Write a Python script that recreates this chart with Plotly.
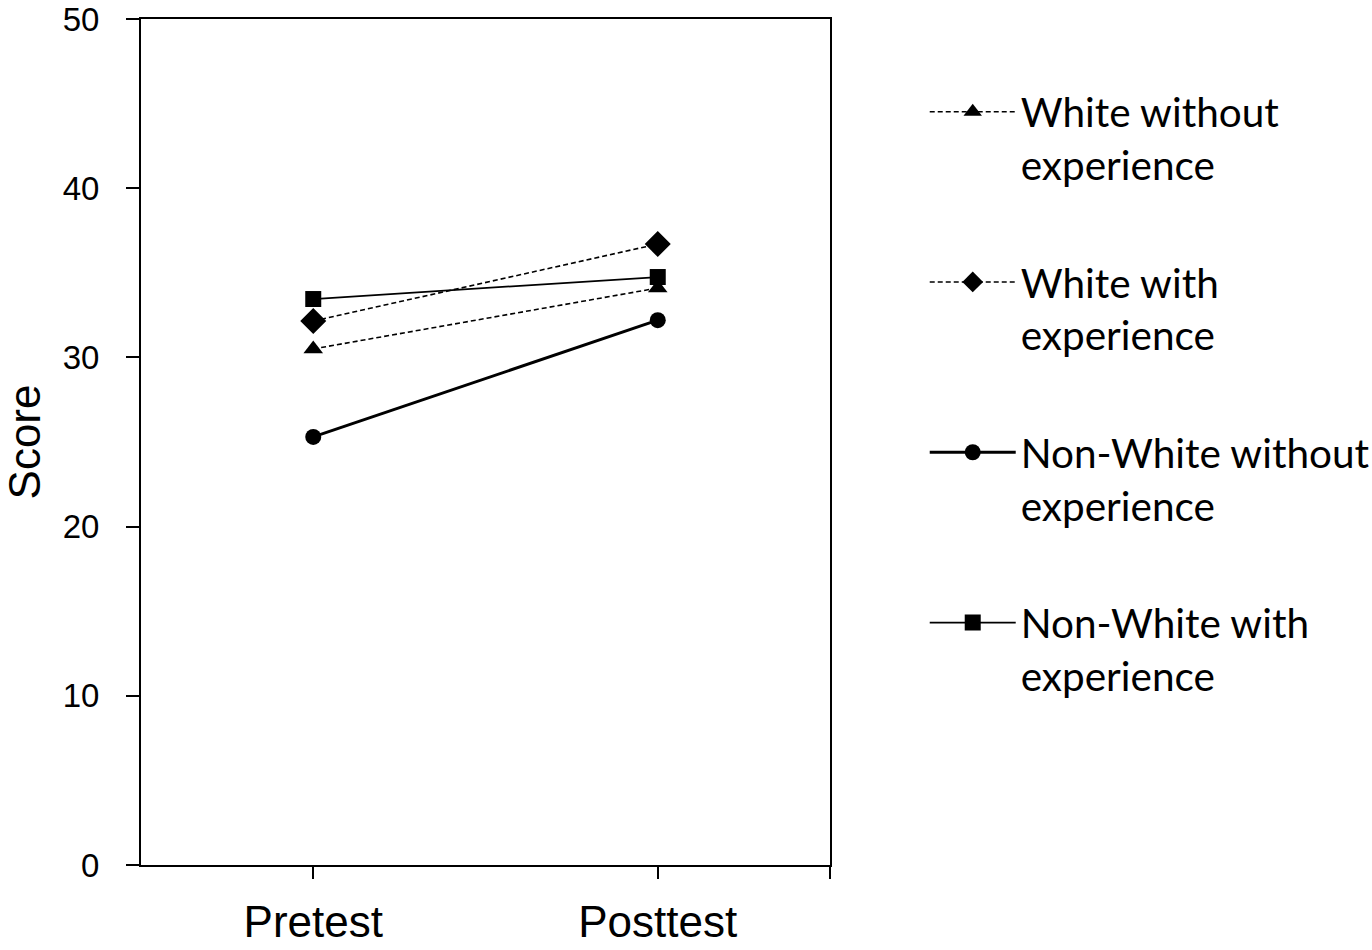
import plotly.graph_objects as go

categories = ["Pretest", "Posttest"]
series_names = [
    "White without<br>experience",
    "White with<br>experience",
    "Non-White without<br>experience",
    "Non-White with<br>experience",
]
white_without = [30.5, 34.1]
white_with = [32.15, 36.7]
nonwhite_without = [25.3, 32.2]
nonwhite_with = [33.45, 34.75]
y_ticks = [0, 10, 20, 30, 40, 50]

values = [white_without, white_with, nonwhite_without, nonwhite_with]
symbols = ["triangle-up", "diamond", "circle", "square"]
dashes = ["5px,3px", "5px,3px", "solid", "solid"]
widths = [1.6, 1.6, 3, 1.8]
msizes = [17, 20, 16, 16]

xpos = list(range(len(categories)))

fig = go.Figure()
for i, (name, vals, sym, dash, w, ms) in enumerate(zip(series_names, values, symbols, dashes, widths, msizes)):
    fig.add_trace(go.Scatter(
        x=xpos, y=vals, name=name, mode="lines+markers",
        legendgroup=f"g{i}",
        line=dict(color="black", width=w, dash=dash),
        marker=dict(symbol=sym, size=ms, color="black"),
    ))

fig.update_layout(
    width=1372, height=950,
    margin=dict(l=141, r=542, t=19, b=85, autoexpand=False),
    paper_bgcolor="white", plot_bgcolor="white",
    showlegend=True,
    legend=dict(
        xref="container", yref="container",
        x=0.674, y=0.917, xanchor="left", yanchor="top",
        font=dict(family="Lato", size=40.5, color="black"),
        valign="top", itemwidth=86, tracegroupgap=62,
        maxheight=900,
        bgcolor="rgba(0,0,0,0)",
    ),
    xaxis=dict(
        range=[-0.5, 1.5],
        tickmode="array", tickvals=xpos + [1.5], ticktext=categories + [""],
        ticks="outside", ticklen=12, tickwidth=2, tickcolor="black",
        showline=True, linecolor="black", linewidth=2, mirror=True,
        showgrid=False, zeroline=False,
        ticklabelstandoff=5, ticklabeloverflow="allow",
        tickfont=dict(family="Liberation Sans", size=44, color="black"),
    ),
    yaxis=dict(
        range=[0, 50],
        tickmode="array", tickvals=y_ticks,
        ticks="outside", ticklen=13, tickwidth=2, tickcolor="black",
        showline=True, linecolor="black", linewidth=2, mirror=True,
        showgrid=False, zeroline=False,
        ticklabelstandoff=20, ticklabeloverflow="allow",
        tickfont=dict(family="Liberation Sans", size=33, color="black"),
        title=dict(text="Score", font=dict(family="Liberation Sans", size=44, color="black"), standoff=26),
    ),
)

fig.write_html(
    "out.html",
    config={"displayModeBar": False},
    post_script="document.body.style.margin='0px';",
)
